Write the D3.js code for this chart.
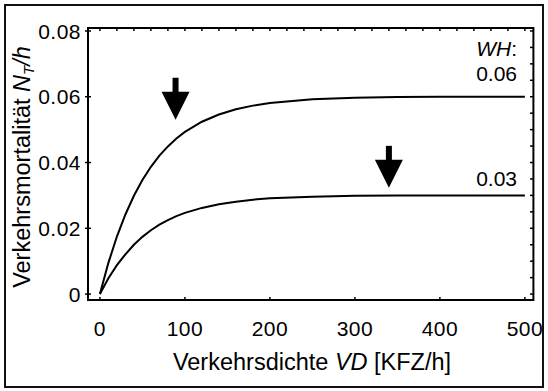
<!DOCTYPE html>
<html><head><meta charset="utf-8">
<script src="https://cdn.jsdelivr.net/npm/d3@7"></script>
<style>body{margin:0;background:#fff}svg{display:block;font-family:"Liberation Sans",Arial,sans-serif}</style>
</head><body><svg id="c" width="548" height="391"></svg>
<script>
const vd = [0,10,20,30,40,50,60,70,80,90,100,120,140,160,180,200,250,300,350,400,450,500];
const wh006 = [0,0.0095,0.0175,0.0242,0.0299,0.0347,0.0387,0.0421,0.0449,0.0473,0.0493,0.0524,0.0546,0.0562,0.0573,0.0581,0.0592,0.0597,0.0599,0.06,0.06,0.06];
const wh003 = [0,0.0048,0.0088,0.0121,0.0150,0.0174,0.0194,0.0211,0.0225,0.0237,0.0247,0.0262,0.0273,0.0281,0.0287,0.0291,0.0296,0.0299,0.0300,0.0300,0.0300,0.0300];
const xTicks = [0,100,200,300,400,500];
const yTicks = [0,0.02,0.04,0.06,0.08];
const yTickLabels = ["0","0.02","0.04","0.06","0.08"];
const seriesLabels = ["0.06","0.03"];
const arrows = [[89,0.053],[340,0.0323]];

const svg = d3.select("#c");
const x = d3.scaleLinear().domain([-14,510]).range([88,533.4]);
const y = d3.scaleLinear().domain([-0.0018,0.0809]).range([300,28]);

svg.append("rect").attr("x",5).attr("y",5).attr("width",538).attr("height",382)
  .attr("fill","none").attr("stroke","#111").attr("stroke-width",2);

// frame
svg.append("rect").attr("x",88).attr("y",28).attr("width",445.4).attr("height",272)
  .attr("fill","none").attr("stroke","#000").attr("stroke-width",2);

// minor ticks top & bottom (inward)
const xm = d3.range(0,501,20);
svg.append("g").selectAll("line").data(xm).join("line")
  .attr("x1",d=>x(d)).attr("x2",d=>x(d)).attr("y1",28).attr("y2",31)
  .attr("stroke","#000").attr("stroke-width",1.5);
svg.append("g").selectAll("line").data(xTicks).join("line")
  .attr("x1",d=>x(d)).attr("x2",d=>x(d)).attr("y1",300).attr("y2",297)
  .attr("stroke","#000").attr("stroke-width",1.5);
// right ticks (inward)
const ym = d3.range(0,0.0801,0.005);
svg.append("g").selectAll("line").data(ym).join("line")
  .attr("x1",530).attr("x2",533.4).attr("y1",d=>y(d)).attr("y2",d=>y(d))
  .attr("stroke","#000").attr("stroke-width",1.5);
// left axis ticks
svg.append("g").selectAll("line").data(yTicks).join("line")
  .attr("x1",85).attr("x2",91).attr("y1",d=>y(d)).attr("y2",d=>y(d))
  .attr("stroke","#000").attr("stroke-width",1.5);

// tick labels
svg.append("g").selectAll("text").data(yTicks).join("text")
  .attr("x",81).attr("y",d=>y(d)).attr("dy","0.36em").attr("text-anchor","end")
  .attr("font-size",21).attr("letter-spacing",0.5).text((d,i)=>yTickLabels[i]);
svg.append("g").selectAll("text").data(xTicks).join("text")
  .attr("x",d=>x(d)).attr("y",336).attr("text-anchor","middle")
  .attr("font-size",21).attr("letter-spacing",0.5).text(d=>d);

// axis titles
const xt = svg.append("text").attr("x",312).attr("y",370).attr("text-anchor","middle").attr("font-size",23.5);
xt.append("tspan").text("Verkehrsdichte ");
xt.append("tspan").attr("font-style","italic").text("VD");
xt.append("tspan").text(" [KFZ/h]");

const yt = svg.append("text").attr("transform","translate(30,167) rotate(-90)").attr("text-anchor","middle").attr("font-size",23.5);
yt.append("tspan").text("Verkehrsmortalität ");
yt.append("tspan").attr("font-style","italic").text("N");
yt.append("tspan").attr("font-style","italic").attr("font-size",15).attr("dy",4).text("T");
yt.append("tspan").attr("font-style","italic").attr("dy",-4).text("/h");

// curves
const line = d3.line().x(d=>x(d[0])).y(d=>y(d[1]));
[wh006,wh003].forEach(s=>{
  svg.append("path").datum(vd.map((v,i)=>[v,s[i]])).attr("d",line)
    .attr("fill","none").attr("stroke","#000").attr("stroke-width",2);
});

// labels
const wl = svg.append("text").attr("x",517).attr("y",56).attr("text-anchor","end").attr("font-size",21);
wl.append("tspan").attr("font-style","italic").text("WH");
wl.append("tspan").text(":");
svg.append("text").attr("x",517).attr("y",y(0.06)-16).attr("text-anchor","end").attr("font-size",21).text(seriesLabels[0]);
svg.append("text").attr("x",517).attr("y",y(0.03)-9).attr("text-anchor","end").attr("font-size",21).text(seriesLabels[1]);

// arrows
arrows.forEach(a=>{
  const tx = x(a[0]), ty = y(a[1]);
  svg.append("rect").attr("x",tx-3).attr("y",ty-42).attr("width",6).attr("height",16).attr("fill","#000");
  svg.append("path").attr("d",`M${tx-14},${ty-28}L${tx+14},${ty-28}L${tx},${ty}Z`).attr("fill","#000");
});
</script></body></html>
